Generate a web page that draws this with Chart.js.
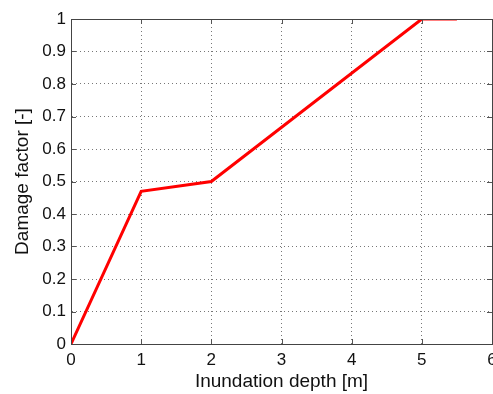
<!DOCTYPE html>
<html>
<head>
<meta charset="utf-8">
<script src="https://cdn.jsdelivr.net/npm/chart.js@4"></script>
<style>
  html, body { margin: 0; padding: 0; background: #fff; }
  #wrap { width: 493px; height: 394px; }
</style>
</head>
<body>
<div id="wrap"><canvas id="damageChart"></canvas></div>
<script>
// depth-damage curve
var depths = [0, 1, 2, 5, 5.5];
var damage = [0, 0.47, 0.5, 1, 1];
var xTicks = [0, 1, 2, 3, 4, 5, 6];
var yTicks = [0, 0.1, 0.2, 0.3, 0.4, 0.5, 0.6, 0.7, 0.8, 0.9, 1];
var yTickLabels = ['0', '0.1', '0.2', '0.3', '0.4', '0.5', '0.6', '0.7', '0.8', '0.9', '1'];

var points = depths.map(function (d, i) { return { x: d, y: damage[i] }; });

// box around the plot + small inward ticks, like matlab axes
var boxPlugin = {
    id: 'box',
    afterDatasetsDraw: function (chart) {
        var ctx = chart.ctx, a = chart.chartArea;
        var xs = chart.scales.x, ys = chart.scales.y;
        ctx.save();
        ctx.strokeStyle = '#555';
        ctx.lineWidth = 1;
        ctx.beginPath();
        xTicks.forEach(function (t) {
            var px = Math.round(xs.getPixelForValue(t)) + 0.5;
            ctx.moveTo(px, a.bottom); ctx.lineTo(px, a.bottom - 5);
            ctx.moveTo(px, a.top); ctx.lineTo(px, a.top + 5);
        });
        yTicks.forEach(function (t) {
            var py = Math.round(ys.getPixelForValue(t)) + 0.5;
            ctx.moveTo(a.left, py); ctx.lineTo(a.left + 5, py);
            ctx.moveTo(a.right, py); ctx.lineTo(a.right - 5, py);
        });
        ctx.stroke();
        ctx.strokeStyle = '#444';
        ctx.strokeRect(Math.round(a.left) + 0.5, Math.round(a.top) + 0.5,
            Math.round(a.right - a.left), Math.round(a.bottom - a.top));
        ctx.restore();
    }
};

var ctx = document.getElementById('damageChart').getContext('2d');
var damageChart = new Chart(ctx, {
    type: 'line',
    data: {
        datasets: [{
            data: points,
            borderColor: '#ff0000',
            borderWidth: 3,
            pointRadius: 0,
            tension: 0,
            fill: false
        }]
    },
    options: {
        responsive: true,
        maintainAspectRatio: false,
        animation: false,
        layout: { padding: { top: 19, right: 1, left: 0, bottom: 0 } },
        plugins: { legend: { display: false }, tooltip: { enabled: false } },
        scales: {
            x: {
                type: 'linear',
                min: 0,
                max: 6,
                afterBuildTicks: function (s) { s.ticks = xTicks.map(function (v) { return { value: v }; }); },
                afterFit: function (s) { s.height = 50; s.paddingLeft = 0; s.paddingRight = 0; },
                ticks: {
                    color: '#111',
                    font: { family: 'Liberation Sans', size: 17 },
                    padding: 6,
                    maxRotation: 0,
                    autoSkip: false
                },
                grid: { color: '#777', lineWidth: 1, drawTicks: false },
                border: { display: true, color: '#444', dash: [1, 3] },
                title: {
                    display: true,
                    text: 'Inundation depth [m]',
                    color: '#111',
                    font: { family: 'Liberation Sans', size: 19 },
                    padding: { top: 0, bottom: 1 }
                }
            },
            y: {
                min: 0,
                max: 1,
                afterBuildTicks: function (s) { s.ticks = yTicks.map(function (v) { return { value: v }; }); },
                afterFit: function (s) { s.width = 71; s.paddingTop = 0; s.paddingBottom = 0; },
                ticks: {
                    color: '#111',
                    font: { family: 'Liberation Sans', size: 17 },
                    padding: 5,
                    autoSkip: false,
                    callback: function (v, i) { return yTickLabels[i]; }
                },
                grid: { color: '#777', lineWidth: 1, drawTicks: false },
                border: { display: true, color: '#444', dash: [1, 3] },
                title: {
                    display: true,
                    text: 'Damage factor [-]',
                    color: '#111',
                    font: { family: 'Liberation Sans', size: 19 },
                    padding: { top: 11, bottom: 0 }
                }
            }
        }
    },
    plugins: [boxPlugin]
});
</script>
</body>
</html>
